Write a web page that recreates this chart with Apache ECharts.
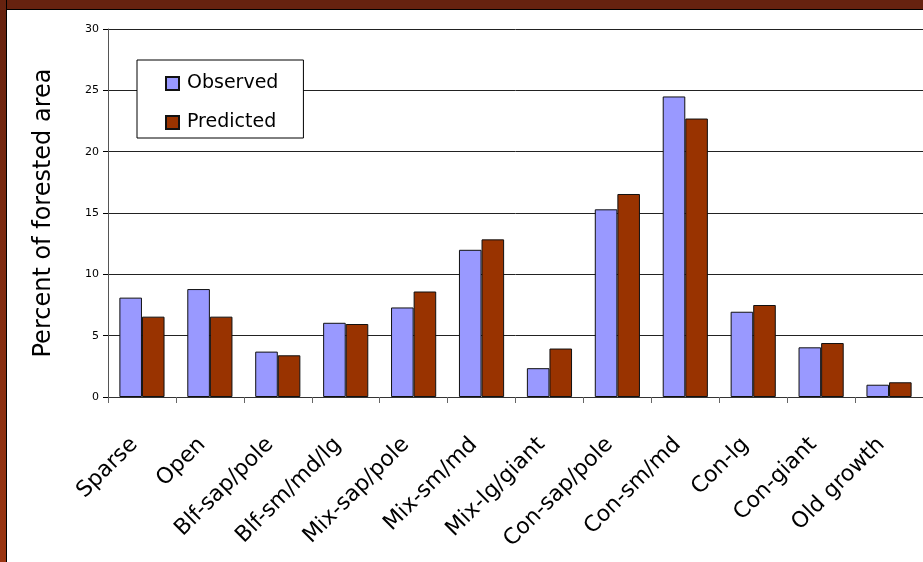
<!DOCTYPE html>
<html>
<head>
<meta charset="utf-8">
<script src="https://cdn.jsdelivr.net/npm/echarts@6/dist/echarts.min.js"></script>
<style>
html,body{margin:0;padding:0;background:#fff;}
#wrap{position:relative;width:923px;height:562px;overflow:hidden;background:#fff;}
#chart{position:absolute;left:0;top:0;width:923px;height:562px;}
#topb{position:absolute;left:0;top:0;width:923px;height:9px;background:#66220f;border-bottom:1px solid #000;z-index:5;}
#leftb{position:absolute;left:0;top:0;width:6px;height:562px;background:linear-gradient(#66220f,#9a3512);border-right:1px solid #000;z-index:5;}
</style>
</head>
<body>
<div id="wrap">
<div id="chart"></div>
<div id="topb"></div>
<div id="leftb"></div>
</div>
<script>
var categories = ['Sparse','Open','Blf-sap/pole','Blf-sm/md/lg','Mix-sap/pole','Mix-sm/md','Mix-lg/giant','Con-sap/pole','Con-sm/md','Con-lg','Con-giant','Old growth'];
var observed = [8.1, 8.8, 3.7, 6.05, 7.3, 12.0, 2.35, 15.3, 24.5, 6.95, 4.05, 1.0];
var predicted = [6.55, 6.55, 3.4, 5.95, 8.6, 12.85, 3.95, 16.55, 22.7, 7.5, 4.4, 1.2];
var yTicks = {min: 0, max: 30, interval: 5};
var yTitle = 'Percent of forested area';

var chart = echarts.init(document.getElementById('chart'));
var FONT = 'DejaVu Sans';
chart.setOption({
  animation: false,
  backgroundColor: 'transparent',
  textStyle: {fontFamily: FONT},
  grid: {left: 108, top: 29, bottom: 165, right: -5, containLabel: false},
  legend: {
    orient: 'vertical', left: 137, top: 60,
    padding: [13, 25, 5, 28],
    borderColor: '#000', borderWidth: 1, backgroundColor: '#fff',
    itemWidth: 13, itemHeight: 13, itemGap: 18,
    icon: 'rect',
    textStyle: {fontSize: 19, color: '#000', fontFamily: FONT, lineHeight: 21, padding: [0, 0, 0, 3]},
    data: ['Observed', 'Predicted']
  },
  xAxis: {
    type: 'category', data: categories,
    axisLine: {lineStyle: {color: '#333', width: 1}},
    axisTick: {show: true, length: 6, lineStyle: {color: '#666'}},
    axisLabel: {rotate: 45, fontSize: 22, color: '#000', margin: 52, interval: 0, fontFamily: FONT, verticalAlign: 'bottom'}
  },
  yAxis: {
    type: 'value', min: yTicks.min, max: yTicks.max, interval: yTicks.interval,
    name: yTitle, nameLocation: 'middle', nameGap: 52,
    nameTextStyle: {fontSize: 24, color: '#000', fontFamily: FONT},
    axisLine: {show: true, lineStyle: {color: '#555'}},
    axisTick: {show: true, length: 5, lineStyle: {color: '#000'}},
    axisLabel: {fontSize: 11, color: '#000', margin: 9, fontFamily: FONT},
    splitLine: {lineStyle: {color: '#222', width: 1}}
  },
  series: [
    {name: 'Observed', type: 'bar', data: observed, barGap: '0%', barCategoryGap: '33.5%',
     itemStyle: {color: '#9999ff', borderColor: '#111', borderWidth: 1}},
    {name: 'Predicted', type: 'bar', data: predicted,
     itemStyle: {color: '#993300', borderColor: '#111', borderWidth: 1}}
  ]
});
</script>
</body>
</html>
